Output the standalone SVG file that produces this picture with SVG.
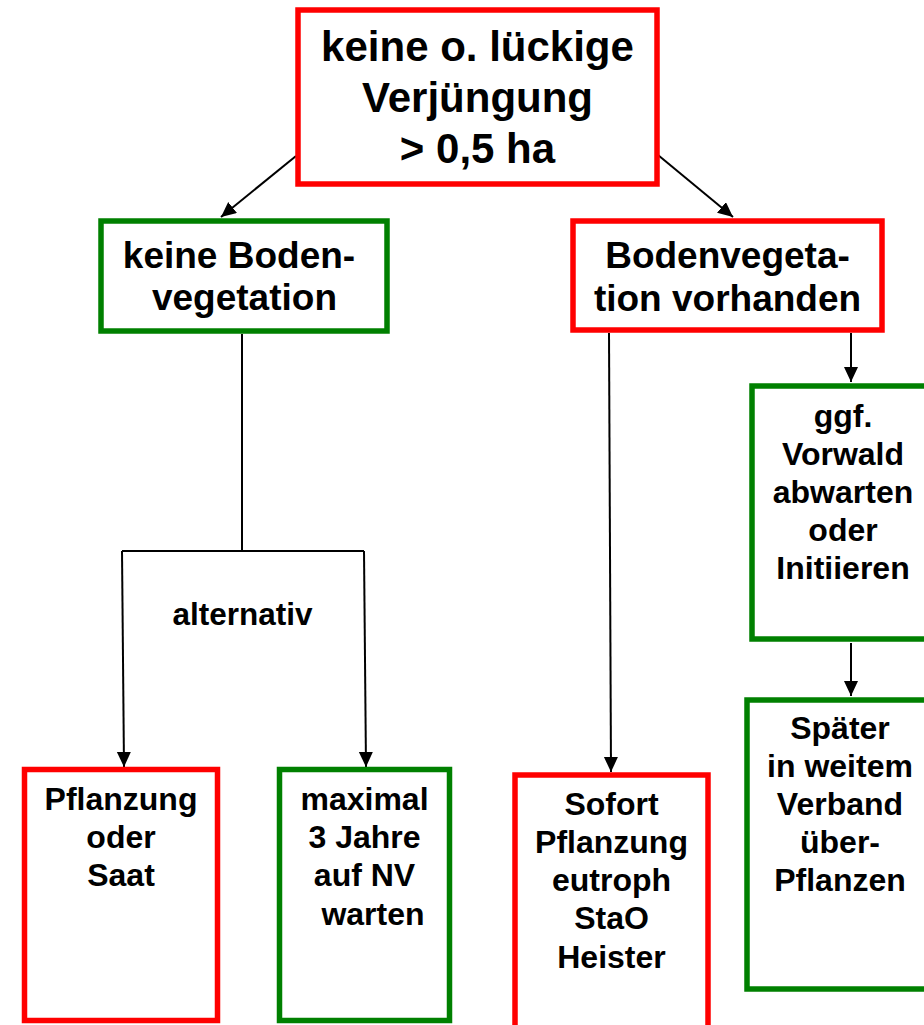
<svg xmlns="http://www.w3.org/2000/svg" width="924" height="1025" viewBox="0 0 924 1025">
<style>
.box{fill:#fff;stroke-width:5.5}
.red{stroke:#ff0000}
.green{stroke:#008000}
text{font-family:"Liberation Sans",Arial,sans-serif;font-weight:bold;fill:#000;text-anchor:middle}
.t42{font-size:42px}
.t37{font-size:37px}
.t32{font-size:32px}
.con{stroke:#000;stroke-width:2;fill:none}
</style>
<defs>
<marker id="ah" markerUnits="userSpaceOnUse" markerWidth="16" markerHeight="16" refX="15" refY="7" orient="auto">
<path d="M0,0 L15,7 L0,14 Z" fill="#000"/>
</marker>
</defs>
<rect width="924" height="1025" fill="#fff"/>
<g id="connectors">
<line class="con" x1="296" y1="156" x2="221" y2="217" marker-end="url(#ah)"/>
<line class="con" x1="658" y1="155" x2="733" y2="217" marker-end="url(#ah)"/>
<line class="con" x1="851" y1="333" x2="851" y2="382" marker-end="url(#ah)"/>
<line class="con" x1="851" y1="643" x2="851" y2="696" marker-end="url(#ah)"/>
<line class="con" x1="609" y1="333" x2="611" y2="772" marker-end="url(#ah)"/>
<polyline class="con" points="242,334 242,551" stroke-width="1.8"/>
<polyline class="con" points="122,551 364,551" stroke-width="1.8"/>
<line class="con" x1="122" y1="551" x2="124" y2="767" marker-end="url(#ah)"/>
<line class="con" x1="364" y1="551" x2="366" y2="767" marker-end="url(#ah)"/>
<text class="t32" x="242.5" y="625" style="font-size:31.5px">alternativ</text>
</g>
<g id="n-top">
<rect class="box red" x="298" y="10" width="359" height="174" stroke-width="6"/>
<text class="t42" x="477.5" y="61">keine o. lückige</text>
<text class="t42" x="477.5" y="112">Verjüngung</text>
<text class="t42" x="477.5" y="163">&gt; 0,5 ha</text>
</g>
<g id="n-keine-boden">
<rect class="box green" x="101" y="221" width="286" height="110"/>
<text class="t37" x="239" y="268">keine Boden-</text>
<text class="t37" x="244.5" y="310">vegetation</text>
</g>
<g id="n-bodenveg">
<rect class="box red" x="573" y="221" width="309" height="109"/>
<text class="t37" x="727.5" y="268">Bodenvegeta-</text>
<text class="t37" x="727.5" y="311">tion vorhanden</text>
</g>
<g id="n-vorwald">
<rect class="box green" x="752" y="386" width="181" height="253"/>
<text class="t32" x="843" y="427">ggf.</text>
<text class="t32" x="843" y="465">Vorwald</text>
<text class="t32" x="843" y="503">abwarten</text>
<text class="t32" x="843" y="541">oder</text>
<text class="t32" x="843" y="579">Initiieren</text>
</g>
<g id="n-spaeter">
<rect class="box green" x="747" y="700" width="186" height="289"/>
<text class="t32" x="840" y="739">Später</text>
<text class="t32" x="840" y="777">in weitem</text>
<text class="t32" x="840" y="815">Verband</text>
<text class="t32" x="840" y="853">über-</text>
<text class="t32" x="840" y="891">Pflanzen</text>
</g>
<g id="n-sofort">
<rect class="box red" x="515" y="775" width="193" height="262"/>
<text class="t32" x="611.5" y="815">Sofort</text>
<text class="t32" x="611.5" y="853">Pflanzung</text>
<text class="t32" x="611.5" y="891">eutroph</text>
<text class="t32" x="611.5" y="929">StaO</text>
<text class="t32" x="611.5" y="968">Heister</text>
</g>
<g id="n-pflanzung">
<rect class="box red" x="24.5" y="769.5" width="193" height="251"/>
<text class="t32" x="121" y="810">Pflanzung</text>
<text class="t32" x="121" y="848">oder</text>
<text class="t32" x="121" y="886">Saat</text>
</g>
<g id="n-maximal">
<rect class="box green" x="279.5" y="769.5" width="170" height="251"/>
<text class="t32" x="364.5" y="810">maximal</text>
<text class="t32" x="364.5" y="848">3 Jahre</text>
<text class="t32" x="364.5" y="886">auf NV</text>
<text class="t32" x="373" y="925">warten</text>
</g>
</svg>
